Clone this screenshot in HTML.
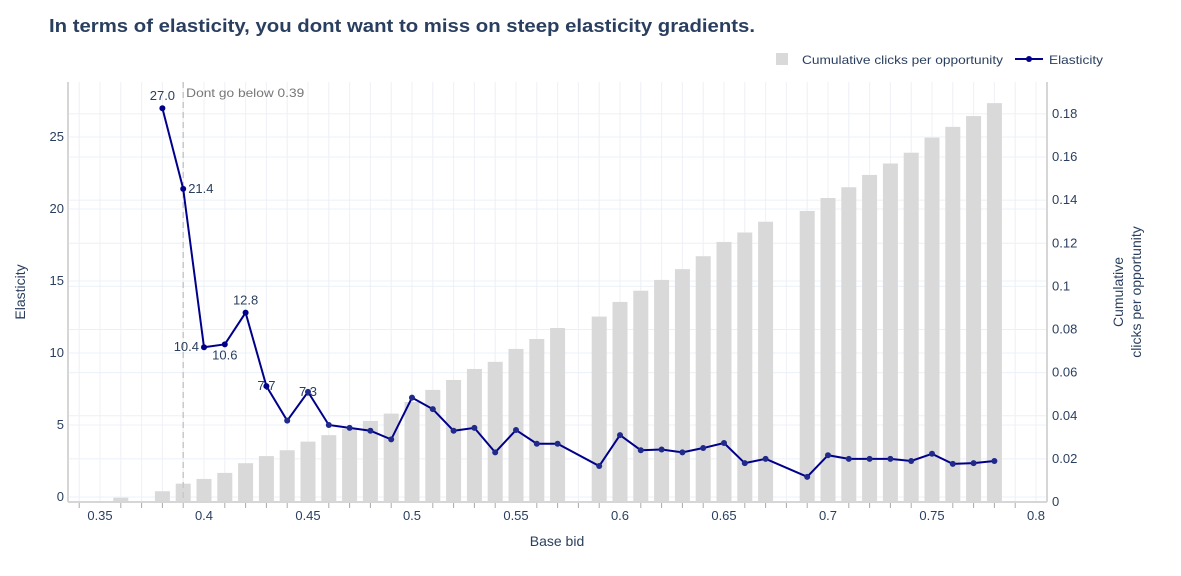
<!DOCTYPE html>
<html><head><meta charset="utf-8"><style>
body{margin:0;background:#fff;font-family:"Liberation Sans",sans-serif}
svg text{font-family:"Liberation Sans",sans-serif}
</style></head><body>
<svg id="chart" width="1181" height="571" xmlns="http://www.w3.org/2000/svg">
<text x="49" y="32" font-size="18" font-weight="bold" fill="#2a3f5f" textLength="706" lengthAdjust="spacingAndGlyphs">In terms of elasticity, you dont want to miss on steep elasticity gradients.</text>
<g id="grid"></g><g id="bars"></g><g id="axes"></g><g id="line"></g>
<g>
<rect x="776" y="53" width="12" height="12" fill="#d9d9d9"/>
<text x="802" y="64" font-size="12" fill="#2a3f5f" textLength="201" lengthAdjust="spacingAndGlyphs">Cumulative clicks per opportunity</text>
<line x1="1015" y1="59" x2="1043" y2="59" stroke="#00008b" stroke-width="2"/>
<circle cx="1029" cy="59" r="3" fill="#00008b"/>
<text x="1049" y="64" font-size="12" fill="#2a3f5f" textLength="54" lengthAdjust="spacingAndGlyphs">Elasticity</text>
</g>
<text x="557" y="546" font-size="14" text-anchor="middle" fill="#2a3f5f">Base bid</text>
<text transform="translate(25,292) rotate(-90)" font-size="14" text-anchor="middle" fill="#2a3f5f">Elasticity</text>
<text transform="translate(1123,292) rotate(-90)" font-size="14" text-anchor="middle" fill="#2a3f5f"><tspan x="0" dy="0">Cumulative</tspan><tspan x="0" dy="18">clicks per opportunity</tspan></text>
</svg>
<script>
const barX=[0.36,0.37,0.38,0.39,0.40,0.41,0.42,0.43,0.44,0.45,0.46,0.47,0.48,0.49,0.50,0.51,0.52,0.53,0.54,0.55,0.56,0.57,0.59,0.60,0.61,0.62,0.63,0.64,0.65,0.66,0.67,0.69,0.70,0.71,0.72,0.73,0.74,0.75,0.76,0.77,0.78];
const barVals=[0.002,0.0003,0.005,0.0085,0.0107,0.0135,0.018,0.0213,0.024,0.028,0.031,0.034,0.0376,0.041,0.0464,0.052,0.0566,0.0617,0.065,0.071,0.0756,0.0807,0.086,0.0928,0.098,0.103,0.108,0.114,0.1206,0.125,0.13,0.135,0.141,0.146,0.1517,0.157,0.162,0.169,0.174,0.179,0.185];
const lineX=[0.38,0.39,0.40,0.41,0.42,0.43,0.44,0.45,0.46,0.47,0.48,0.49,0.50,0.51,0.52,0.53,0.54,0.55,0.56,0.57,0.59,0.60,0.61,0.62,0.63,0.64,0.65,0.66,0.67,0.69,0.70,0.71,0.72,0.73,0.74,0.75,0.76,0.77,0.78];
const lineVals=[27.0,21.4,10.4,10.6,12.8,7.7,5.3,7.3,5.0,4.8,4.6,4.0,6.9,6.1,4.6,4.8,3.1,4.65,3.7,3.7,2.15,4.3,3.25,3.3,3.1,3.4,3.75,2.35,2.65,1.4,2.9,2.65,2.65,2.65,2.5,3.0,2.3,2.35,2.5];
const xTicks=[0.35,0.4,0.45,0.5,0.55,0.6,0.65,0.7,0.75,0.8];
const xTickLabels=["0.35","0.4","0.45","0.5","0.55","0.6","0.65","0.7","0.75","0.8"];
const yTicks=[0,5,10,15,20,25];
const y2Ticks=[0,0.02,0.04,0.06,0.08,0.1,0.12,0.14,0.16,0.18];
const y2TickLabels=["0","0.02","0.04","0.06","0.08","0.1","0.12","0.14","0.16","0.18"];
const labeled={"0.38":["27.0","above"],"0.39":["21.4","right"],"0.40":["10.4","left"],"0.41":["10.6","below"],"0.42":["12.8","above"],"0.43":["7.7","mid"],"0.45":["7.3","mid"]};
const NS="http://www.w3.org/2000/svg";
const L=68,R=1047,T=82,B=502;
const xs=v=>100+(v-0.35)*2080;
const ys=v=>497-14.4*v;
const y2s=v=>502-2156*v;
function mk(tag,attrs,parent,txt){const e=document.createElementNS(NS,tag);for(const k in attrs)e.setAttribute(k,attrs[k]);if(txt!==undefined)e.textContent=txt;document.getElementById(parent).appendChild(e);return e;}
for(let i=34;i<=80;i++){const x=xs(i/100);if(x<L||x>R)continue;const g=mk('line',{x1:x,x2:x,y1:T,y2:B,stroke:'#eef0f6','stroke-width':1},'grid');

}
yTicks.forEach(v=>{const g=mk('line',{x1:L,x2:R,y1:ys(v),y2:ys(v),stroke:'#ebf0f8','stroke-width':1},'grid');

});
y2Ticks.forEach(v=>{const g=mk('line',{x1:L,x2:R,y1:y2s(v),y2:y2s(v),stroke:'#ebf0f8','stroke-width':1},'grid');

});
barX.forEach((x,i)=>{const top=y2s(barVals[i]);const b=mk('rect',{x:xs(x)-7.5,y:top,width:15,height:B-top,fill:'#d9d9d9'},'bars');

});
mk('line',{x1:L,x2:R,y1:B,y2:B,stroke:'#d6d6d6','stroke-width':2},'axes');
mk('line',{x1:L,x2:L,y1:T,y2:B,stroke:'#d6d6d6','stroke-width':2},'axes');
mk('line',{x1:R,x2:R,y1:T,y2:B,stroke:'#d6d6d6','stroke-width':2},'axes');
for(let i=34;i<=80;i++){if(i%5===0)continue;const x=xs(i/100);if(x<L||x>R)continue;mk('line',{x1:x,x2:x,y1:B+1,y2:B+6,stroke:'#aaa','stroke-width':1},'axes');}
xTicks.forEach((v,i)=>{const t=mk('text',{x:xs(v),y:520,'font-size':13,'text-anchor':'middle',fill:'#2a3f5f'},'axes',xTickLabels[i]);

});
yTicks.forEach(v=>{const t=mk('text',{x:64,y:ys(v)+4,'font-size':13,'text-anchor':'end',fill:'#2a3f5f'},'axes',String(v));

});
y2Ticks.forEach((v,i)=>{const t=mk('text',{x:1052,y:y2s(v)+4,'font-size':13,fill:'#2a3f5f'},'axes',y2TickLabels[i]);

});
const th=mk('line',{x1:xs(0.39),x2:xs(0.39),y1:T,y2:B,stroke:'#c8c8c8','stroke-width':1.5,'stroke-dasharray':'6,4'},'axes');


const tt=mk('text',{x:xs(0.39)+3,y:97,'font-size':12,fill:'#777',textLength:118,lengthAdjust:'spacingAndGlyphs'},'axes','Dont go below 0.39');


const pts=lineX.map((x,i)=>xs(x)+','+ys(lineVals[i])).join(' ');
const pl=mk('polyline',{points:pts,fill:'none',stroke:'#00008b','stroke-width':2},'line');


lineX.forEach((x,i)=>{const c=mk('circle',{cx:xs(x),cy:ys(lineVals[i]),r:3,fill:i>=6?'#1f2a8a':'#00008b'},'line');


const lb=labeled[x.toFixed(2)];if(lb){let px=xs(x),py=ys(lineVals[i]),a='middle';
if(lb[1]==='above')py-=8;else if(lb[1]==='right'){px+=5;py+=4;a='start';}else if(lb[1]==='left'){px-=5;py+=4;a='end';}else if(lb[1]==='below')py+=15;else{py+=4;}
const t=mk('text',{x:px,y:py,'font-size':13,'text-anchor':a,fill:'#2a3f5f'},'line',lb[0]);

}});
</script>
</body></html>
